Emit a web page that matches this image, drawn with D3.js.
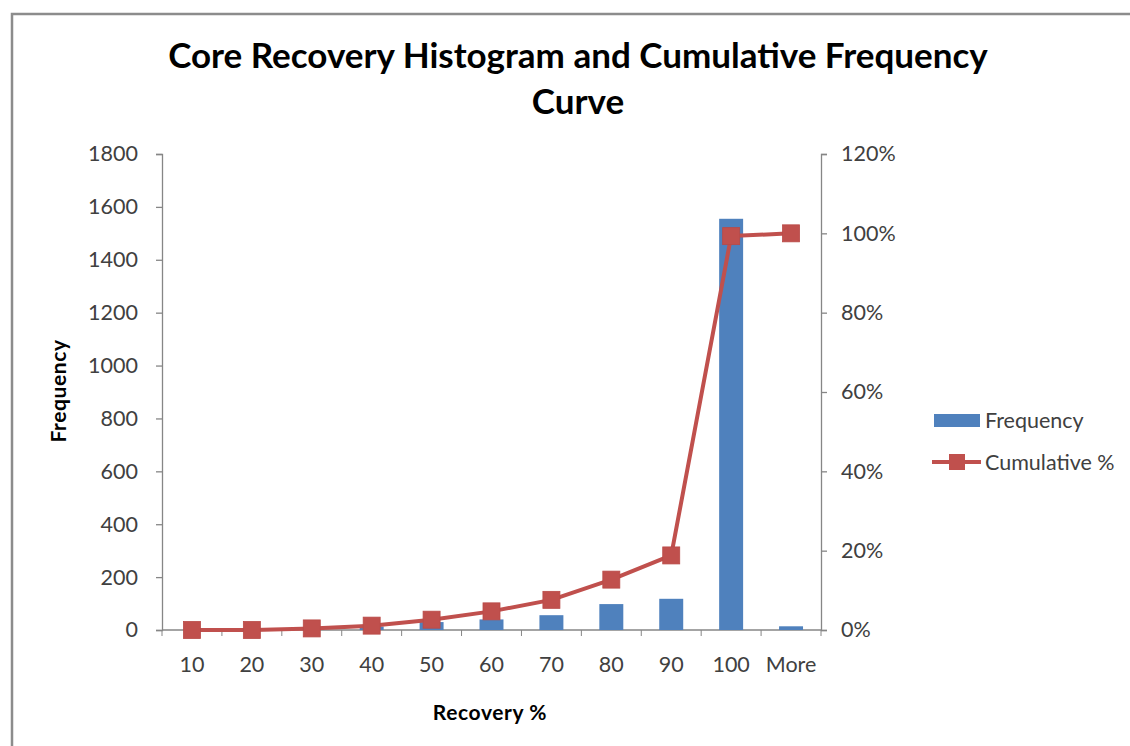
<!DOCTYPE html>
<html>
<head>
<meta charset="utf-8">
<script src="https://cdn.jsdelivr.net/npm/d3@7"></script>
<style>
  html, body { margin: 0; padding: 0; background: #fff; }
  svg { display: block; font-family: Lato, "Open Sans", sans-serif; }
</style>
</head>
<body>
<svg id="chart" width="1130" height="746"></svg>
<script>
// Recovery bins (upper bound of each 10% class) and their counts
const bins = ["10", "20", "30", "40", "50", "60", "70", "80", "90", "100", "More"];
const frequency = [0, 0, 8, 13, 30, 40, 56, 98, 118, 1555, 14];
// Running share of all core runs, as a fraction
const cumulative = [0, 0, 0.004, 0.011, 0.026, 0.047, 0.076, 0.127, 0.188, 0.993, 1.0];

const freqTicks = [0, 200, 400, 600, 800, 1000, 1200, 1400, 1600, 1800];
const pctTicks = [0, 0.2, 0.4, 0.6, 0.8, 1.0, 1.2];

const titleLines = ["Core Recovery Histogram and Cumulative Frequency", "Curve"];
const seriesNames = ["Frequency", "Cumulative %"];

const BLUE = "#4F81BD", RED = "#C0504D", AXIS = "#868686", TEXT = "#404040";
const LABEL_SIZE = 21.5;

const svg = d3.select("#chart");
const plot = { left: 162, right: 821, top: 154, bottom: 630 };

svg.append("rect").attr("width", 1130).attr("height", 746).attr("fill", "#fff");
// outer chart border
svg.append("rect")
  .attr("x", 12).attr("y", 14).attr("width", 1140).attr("height", 760)
  .attr("fill", "none").attr("stroke", "#8c8c8c").attr("stroke-width", 2.5);

const x = d3.scaleBand().domain(bins).range([plot.left, plot.right]).padding(0);
const yL = d3.scaleLinear().domain([0, 1800]).range([plot.bottom, plot.top]);
const yR = d3.scaleLinear().domain([0, 1.2]).range([plot.bottom, plot.top]);

// title
svg.append("text")
  .attr("text-anchor", "middle")
  .attr("font-weight", "bold").attr("font-size", 35).attr("fill", "#000")
  .selectAll("tspan").data(titleLines).join("tspan")
  .attr("x", 578).attr("y", (d, i) => i === 0 ? 68 : 114)
  .text(d => d);

// left axis
const gL = svg.append("g").attr("transform", `translate(${plot.left},0)`)
  .call(d3.axisLeft(yL).tickValues(freqTicks).tickSize(6).tickPadding(18).tickFormat(d3.format("d")));
// right axis
const gR = svg.append("g").attr("transform", `translate(${plot.right},0)`)
  .call(d3.axisRight(yR).tickValues(pctTicks).tickSize(6).tickPadding(14).tickFormat(d3.format(".0%")));
// bottom axis: labels centred in each band
const gB = svg.append("g").attr("transform", `translate(0,${plot.bottom})`)
  .call(d3.axisBottom(x).tickSize(0).tickPadding(27));
// category boundary ticks on the bottom axis
const bounds = bins.map(b => x(b)).concat([x.range()[1]]);
gB.selectAll("line.bound").data(bounds).join("line")
  .attr("class", "bound")
  .attr("x1", d => d).attr("x2", d => d).attr("y1", 0).attr("y2", 6)
  .attr("stroke", AXIS);

[gL, gR, gB].forEach(g => {
  g.select(".domain").attr("stroke", AXIS).attr("stroke-width", 1.3);
  g.selectAll(".tick line").attr("stroke", AXIS).attr("stroke-width", 1.3);
  g.selectAll(".tick text").attr("font-size", LABEL_SIZE).attr("fill", TEXT)
    .attr("font-family", "Lato, 'Open Sans', sans-serif");
});
gB.select(".domain").attr("d", `M${plot.left},0H${plot.right}`);

// axis titles
svg.append("text")
  .attr("transform", `translate(66,391) rotate(-90)`)
  .attr("text-anchor", "middle").attr("font-weight", "bold")
  .attr("font-size", 21).attr("letter-spacing", 0.6).attr("fill", "#000").text("Frequency");
svg.append("text")
  .attr("x", 490).attr("y", 720).attr("text-anchor", "middle")
  .attr("font-weight", "bold").attr("font-size", 21).attr("letter-spacing", 0.6).attr("fill", "#000")
  .text("Recovery %");

// bars
const barW = x.bandwidth() / 2.5;
svg.append("g").selectAll("rect").data(bins).join("rect")
  .attr("x", d => x(d) + x.bandwidth() / 2 - barW / 2)
  .attr("width", barW)
  .attr("y", (d, i) => yL(frequency[i]))
  .attr("height", (d, i) => plot.bottom - yL(frequency[i]))
  .attr("fill", BLUE);

// cumulative curve
const cx = d => x(d) + x.bandwidth() / 2;
const line = d3.line().x((d, i) => cx(bins[i])).y(d => yR(d));
svg.append("path").datum(cumulative)
  .attr("d", line).attr("fill", "none")
  .attr("stroke", RED).attr("stroke-width", 4).attr("stroke-linejoin", "round");
const M = 17;
svg.append("g").selectAll("rect").data(cumulative).join("rect")
  .attr("x", (d, i) => cx(bins[i]) - M / 2)
  .attr("y", d => yR(d) - M / 2)
  .attr("width", M).attr("height", M)
  .attr("fill", RED).attr("stroke", "#b94a47").attr("stroke-width", 0.8);

// legend
const lg = svg.append("g");
lg.append("rect").attr("x", 934).attr("y", 414).attr("width", 46).attr("height", 13).attr("fill", BLUE);
lg.append("line").attr("x1", 932).attr("x2", 981).attr("y1", 462).attr("y2", 462)
  .attr("stroke", RED).attr("stroke-width", 4);
lg.append("rect").attr("x", 949).attr("y", 454).attr("width", 16).attr("height", 16).attr("fill", RED);
lg.selectAll("text").data(seriesNames).join("text")
  .attr("x", 985).attr("y", (d, i) => i === 0 ? 428 : 470)
  .attr("font-size", LABEL_SIZE).attr("fill", TEXT).text(d => d);
</script>
</body>
</html>
